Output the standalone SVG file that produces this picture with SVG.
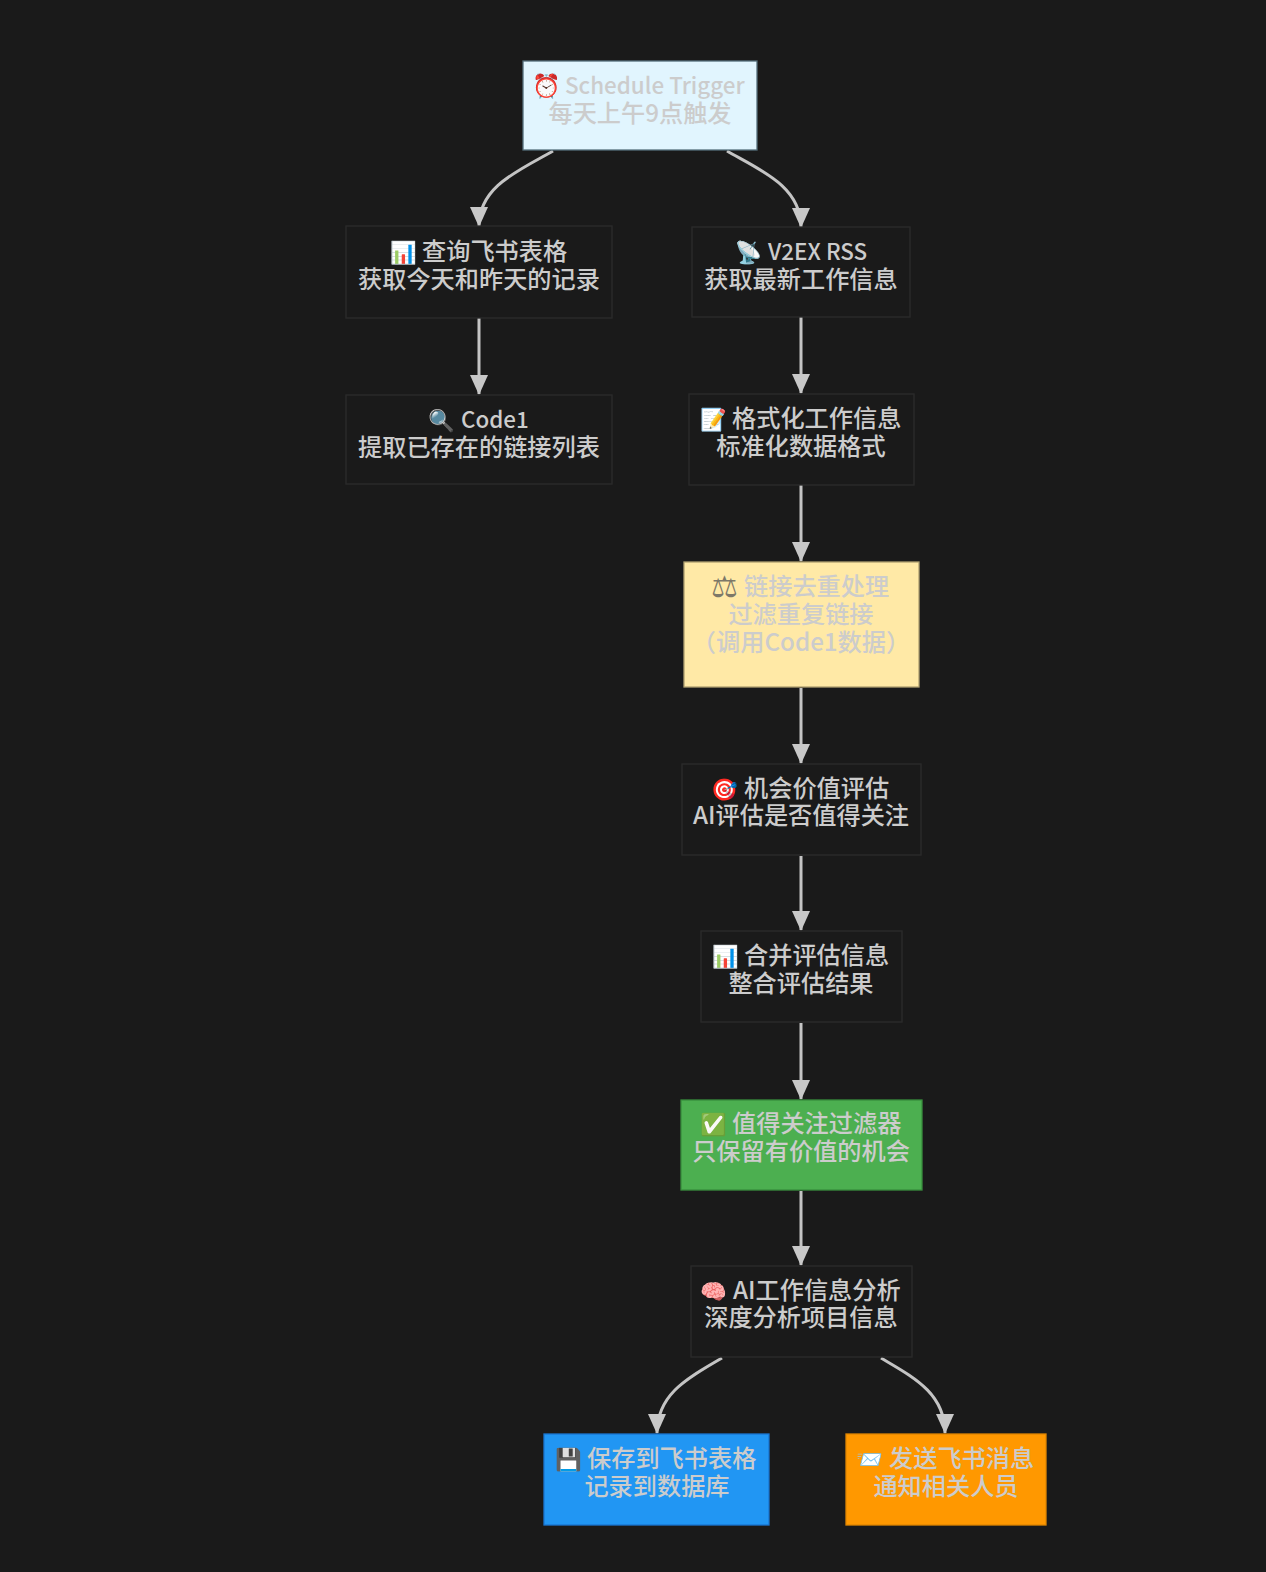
<svg xmlns="http://www.w3.org/2000/svg" width="1266" height="1572" viewBox="0 0 1266 1572">
<style>
text{font-family:"Noto Sans CJK SC",sans-serif;font-size:24.2px;font-weight:500;fill:#ccc;text-anchor:middle}
.e{font-family:"Noto Color Emoji","Noto Sans CJK SC",sans-serif;font-size:21.5px;font-weight:400;text-anchor:start}
.s{text-anchor:start}
.l{font-size:22.4px;text-anchor:start}
.m{font-family:"DejaVu Sans",sans-serif;font-size:30px;font-weight:400;fill:#7d7868;text-anchor:start}
.box{stroke-width:1.3}
.dark{fill:#1a1a1a;stroke:#2b2b2b}
.edge{fill:none;stroke:#c4c4c4;stroke-width:3;marker-end:url(#arrow)}
</style>
<defs><marker id="arrow" markerUnits="userSpaceOnUse" markerWidth="22" markerHeight="20" viewBox="0 0 22 20" refX="20" refY="10" orient="auto"><path d="M1 1L21 10L1 19Z" fill="#c8c8c8"/></marker></defs>
<rect width="1266" height="1572" fill="#1a1a1a"/>
<g id="connectors">
<path class="edge" d="M553 151C520 170 479 186 479 226"/>
<path class="edge" d="M727 151C760 170 801 186 801 227"/>
<path class="edge" d="M479 318V394"/>
<path class="edge" d="M801 317V393"/>
<path class="edge" d="M801 485V561"/>
<path class="edge" d="M801 688V763"/>
<path class="edge" d="M801 856V930"/>
<path class="edge" d="M801 1023V1099"/>
<path class="edge" d="M801 1191V1265"/>
<path class="edge" d="M722 1358C690 1377 657 1393 657 1433"/>
<path class="edge" d="M881 1358C913 1377 945 1393 945 1433"/>
</g>
<g id="n1"><rect class="box" x="523" y="61" width="234" height="89" fill="#e1f5fe" stroke="#546e7a"/><text><tspan class="e" style="font-size:23px" x="532" y="94">⏰</tspan><tspan class="l" x="565" y="94">Schedule Trigger</tspan><tspan x="640" y="122">每天上午9点触发</tspan></text></g>
<g id="n2"><rect class="box dark" x="346" y="226" width="266" height="92"/><text><tspan class="e" x="390" y="260">📊</tspan><tspan class="s" x="422" y="260">查询飞书表格</tspan><tspan x="479" y="287.500">获取今天和昨天的记录</tspan></text></g>
<g id="n3"><rect class="box dark" x="692" y="227" width="218" height="90"/><text><tspan class="e" x="735" y="260">📡</tspan><tspan class="l" x="768" y="260">V2EX RSS</tspan><tspan x="801" y="287.500">获取最新工作信息</tspan></text></g>
<g id="n4"><rect class="box dark" x="346" y="395" width="266" height="89"/><text><tspan class="e" x="428" y="428">🔍</tspan><tspan class="l" x="461" y="428">Code1</tspan><tspan x="479" y="456">提取已存在的链接列表</tspan></text></g>
<g id="n5"><rect class="box dark" x="689" y="394" width="225" height="91"/><text><tspan class="e" x="700" y="427">📝</tspan><tspan class="s" x="732" y="427">格式化工作信息</tspan><tspan x="801" y="455">标准化数据格式</tspan></text></g>
<g id="n6"><rect class="box" x="684" y="562" width="235" height="125" fill="#ffe9a6" stroke="#b0a070"/><text><tspan class="m" x="711" y="597">⚖︎</tspan><tspan class="s" x="744" y="595">链接去重处理</tspan><tspan x="801" y="622.500">过滤重复链接</tspan><tspan x="801" y="650.500">（调用Code1数据）</tspan></text></g>
<g id="n7"><rect class="box dark" x="682" y="764" width="239" height="91"/><text><tspan class="e" x="711" y="797">🎯</tspan><tspan class="s" x="744" y="797">机会价值评估</tspan><tspan x="801" y="824">AI评估是否值得关注</tspan></text></g>
<g id="n8"><rect class="box dark" x="701" y="931" width="201" height="91"/><text><tspan class="e" x="712" y="964">📊</tspan><tspan class="s" x="744" y="964">合并评估信息</tspan><tspan x="801" y="992">整合评估结果</tspan></text></g>
<g id="n9"><rect class="box" x="681" y="1100" width="241" height="90" fill="#4caf50" stroke="#388e3c"/><text><tspan class="e" x="700" y="1132">✅</tspan><tspan class="s" x="732" y="1132">值得关注过滤器</tspan><tspan x="801" y="1160">只保留有价值的机会</tspan></text></g>
<g id="n10"><rect class="box dark" x="691" y="1266" width="221" height="91"/><text><tspan class="e" x="700" y="1299">🧠</tspan><tspan class="s" x="733" y="1299">AI工作信息分析</tspan><tspan x="801" y="1326">深度分析项目信息</tspan></text></g>
<g id="n11"><rect class="box" x="544" y="1434" width="225" height="91" fill="#2196f3" stroke="#1976d2"/><text><tspan class="e" x="555" y="1467">💾</tspan><tspan class="s" x="587" y="1467">保存到飞书表格</tspan><tspan x="657" y="1494.500">记录到数据库</tspan></text></g>
<g id="n12"><rect class="box" x="846" y="1434" width="200" height="91" fill="#ff9800" stroke="#e08600"/><text><tspan class="e" x="856" y="1467">📨</tspan><tspan class="s" x="889" y="1467">发送飞书消息</tspan><tspan x="946" y="1494.500">通知相关人员</tspan></text></g>
</svg>
